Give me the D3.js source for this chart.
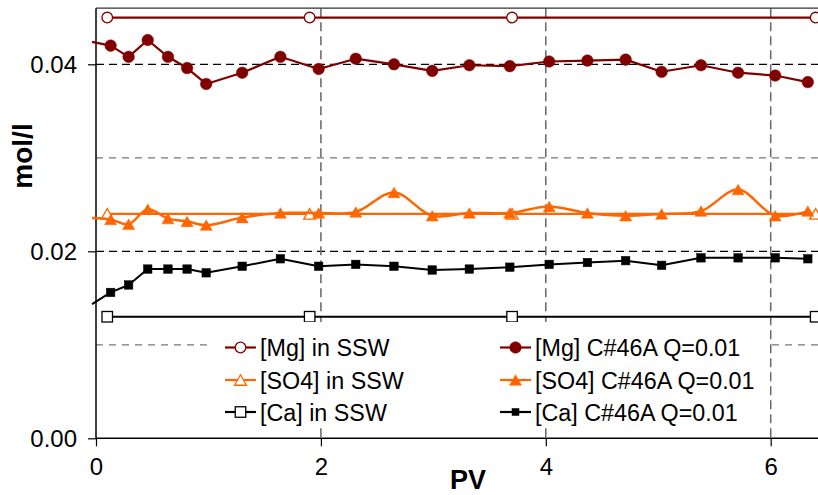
<!DOCTYPE html>
<html>
<head>
<meta charset="utf-8">
<script src="https://cdn.jsdelivr.net/npm/d3@7"></script>
<style>
  html, body { margin: 0; padding: 0; background: #fff; }
  svg { display: block; font-family: "Liberation Sans", Arial, sans-serif; }
</style>
</head>
<body>
<svg id="chart" width="818" height="495"></svg>
<script>
// ---- data ----
const pvMeasured = [0.13, 0.29, 0.46, 0.64, 0.81, 0.98, 1.30, 1.64, 1.98, 2.31, 2.65, 2.99, 3.32, 3.68, 4.03, 4.37, 4.71, 5.03, 5.38, 5.71, 6.04, 6.33];
const mgMeasured = [0.0420, 0.0408, 0.0426, 0.0408, 0.0396, 0.0379, 0.0391, 0.0408, 0.0395, 0.0406, 0.0400, 0.0393, 0.0399, 0.0398, 0.0403, 0.0404, 0.0405, 0.0392, 0.0399, 0.0391, 0.0388, 0.0381];
const so4Measured = [0.0234, 0.0229, 0.0245, 0.0235, 0.0232, 0.0228, 0.0236, 0.0241, 0.0241, 0.0242, 0.0263, 0.0238, 0.0241, 0.0241, 0.0248, 0.0241, 0.0238, 0.0240, 0.0243, 0.0266, 0.0238, 0.0243];
const caMeasured = [0.0156, 0.0164, 0.0181, 0.0181, 0.0181, 0.0177, 0.0184, 0.0192, 0.0184, 0.0186, 0.0184, 0.0180, 0.0181, 0.0183, 0.0186, 0.0188, 0.0190, 0.0185, 0.0193, 0.0193, 0.0193, 0.0192];
// line lead-in point (no marker) for measured series
const leadPV = -0.035;
const leadValues = { mg: 0.0424, so4: 0.02355, ca: 0.01435 };

const pvSSW = [0.1, 1.9, 3.7, 6.4];
const mgSSW = [0.0450, 0.0450, 0.0450, 0.0450];
const so4SSW = [0.0240, 0.0240, 0.0240, 0.0240];
const caSSW = [0.0130, 0.0130, 0.0130, 0.0130];

const xTicks = [0, 2, 4, 6];
const yTicks = [0.00, 0.02, 0.04];
const yGrid = [0.01, 0.02, 0.03, 0.04];

const legendLabels = ["[Mg] in SSW", "[SO4] in SSW", "[Ca] in SSW",
                      "[Mg] C#46A Q=0.01", "[SO4] C#46A Q=0.01", "[Ca] C#46A Q=0.01"];

// ---- layout ----
const svg = d3.select("#chart");
const x = d3.scaleLinear().domain([0, 6.5]).range([96, 96 + 6.5 * 112.45]);
const y = d3.scaleLinear().domain([0, 0.046]).range([438.3, 8.2]);
const X0 = 96, X1 = 818, Y0 = 438.3, Y1 = 8.2;

const C_MG = "#800000", C_SO4 = "#ff6600", C_CA = "#000000";

// gridlines
svg.append("g").selectAll("line").data(yGrid).join("line")
  .attr("x1", X0).attr("x2", X1)
  .attr("y1", d => y(d)).attr("y2", d => y(d))
  .attr("stroke", d => (Math.round(d * 100) % 2 === 0) ? "#000" : "#777")
  .attr("stroke-width", 1.2)
  .attr("stroke-dasharray", d => (Math.round(d * 100) % 2 === 0) ? "8,5" : "7,6");

svg.append("g").selectAll("line").data(xTicks.filter(d => d > 0)).join("line")
  .attr("x1", d => x(d)).attr("x2", d => x(d))
  .attr("y1", Y1).attr("y2", Y0)
  .attr("stroke", "#666").attr("stroke-width", 1.5)
  .attr("stroke-dasharray", "9,5");

// top border
svg.append("line").attr("x1", X0).attr("x2", X1).attr("y1", Y1).attr("y2", Y1)
  .attr("stroke", "#333").attr("stroke-width", 1.3);

// axes
const yAxis = d3.axisLeft(y).tickValues(yTicks).tickSize(8).tickPadding(11)
  .tickFormat(d3.format(".2f"));
const gy = svg.append("g").attr("transform", `translate(${X0},0)`).call(yAxis);
gy.select(".domain").attr("stroke", "#000").attr("stroke-width", 1.5).attr("d", `M0,${Y0}V${Y1}`);
gy.selectAll(".tick line").attr("stroke", "#000").attr("stroke-width", 1.2);
gy.selectAll(".tick text").attr("font-size", 24).attr("fill", "#000")
  .attr("font-family", "Liberation Sans, Arial, sans-serif").attr("dy", "0.36em");

const xAxis = d3.axisBottom(x).tickValues(xTicks).tickSize(8).tickPadding(12)
  .tickFormat(d3.format("d"));
const gx = svg.append("g").attr("transform", `translate(0,${Y0})`).call(xAxis);
gx.select(".domain").attr("stroke", "#000").attr("stroke-width", 1.5).attr("d", `M${X0},0H${X1 + 10}`);
gx.selectAll(".tick line").attr("stroke", "#000").attr("stroke-width", 1.2);
gx.selectAll(".tick text").attr("font-size", 24).attr("fill", "#000")
  .attr("font-family", "Liberation Sans, Arial, sans-serif");

// axis titles
svg.append("text").attr("transform", "translate(32,156) rotate(-90)")
  .attr("text-anchor", "middle").attr("font-weight", "bold").attr("font-size", 28)
  .text("mol/l");
svg.append("text").attr("x", 468).attr("y", 489)
  .attr("text-anchor", "middle").attr("font-weight", "bold").attr("font-size", 27)
  .text("PV");

// ---- markers ----
function triPath(w, h) {
  return `M0,${-h / 2}L${w / 2},${h / 2}L${-w / 2},${h / 2}Z`;
}
function drawMarker(g, type, cx, cy, color, filled, small) {
  if (type === "circle") {
    g.append("circle").attr("cx", cx).attr("cy", cy).attr("r", filled ? 5.8 : 5.3)
      .attr("fill", filled ? color : "#fff").attr("stroke", color).attr("stroke-width", filled ? 0.5 : 1.3);
  } else if (type === "tri") {
    g.append("path").attr("transform", `translate(${cx},${cy})`).attr("d", triPath(12, 10.5))
      .attr("fill", filled ? color : "#fff").attr("stroke", color).attr("stroke-width", filled ? 0.5 : 1.3);
  } else if (type === "square") {
    const s = filled ? (small ? 7 : 8.5) : 10.5;
    g.append("rect").attr("x", cx - s / 2).attr("y", cy - s / 2).attr("width", s).attr("height", s)
      .attr("fill", filled ? color : "#fff").attr("stroke", color).attr("stroke-width", filled ? 0.5 : 1.3);
  }
}

const line = d3.line().x(d => x(d[0])).y(d => y(d[1]));
const smooth = d3.line().x(d => x(d[0])).y(d => y(d[1])).curve(d3.curveCatmullRom.alpha(0.5));

// SSW series
const ssw = [
  { vals: mgSSW, color: C_MG, type: "circle" },
  { vals: so4SSW, color: C_SO4, type: "tri" },
  { vals: caSSW, color: C_CA, type: "square" }
];
ssw.forEach(s => {
  const pts = pvSSW.map((p, i) => [p, s.vals[i]]);
  svg.append("path").attr("d", line(pts)).attr("fill", "none")
    .attr("stroke", s.color).attr("stroke-width", 2.2);
  const g = svg.append("g");
  pts.forEach(p => drawMarker(g, s.type, x(p[0]), y(p[1]), s.color, false));
});

// measured series
const meas = [
  { vals: mgMeasured, lead: leadValues.mg, color: C_MG, type: "circle", gen: line, w: 2.2 },
  { vals: so4Measured, lead: leadValues.so4, color: C_SO4, type: "tri", gen: smooth, w: 2.5 },
  { vals: caMeasured, lead: leadValues.ca, color: C_CA, type: "square", gen: line, w: 2 }
];
meas.forEach(s => {
  const pts = pvMeasured.map((p, i) => [p, s.vals[i]]);
  svg.append("path").attr("d", s.gen([[leadPV, s.lead], ...pts])).attr("fill", "none")
    .attr("stroke", s.color).attr("stroke-width", s.w).attr("stroke-linejoin", "round");
  const g = svg.append("g");
  pts.forEach(p => drawMarker(g, s.type, x(p[0]), y(p[1]), s.color, true));
});

// ---- legend ----
svg.append("rect").attr("x", 213).attr("y", 322).attr("width", 557).attr("height", 105).attr("fill", "#fff");
const legendItems = [
  { col: 0, row: 0, color: C_MG, type: "circle", filled: false },
  { col: 0, row: 1, color: C_SO4, type: "tri", filled: false },
  { col: 0, row: 2, color: C_CA, type: "square", filled: false },
  { col: 1, row: 0, color: C_MG, type: "circle", filled: true },
  { col: 1, row: 1, color: C_SO4, type: "tri", filled: true },
  { col: 1, row: 2, color: C_CA, type: "square", filled: true }
];
const colX = [225, 500];
const rowY = [347.5, 380, 412];
legendItems.forEach((it, i) => {
  const lx = colX[it.col], ly = rowY[it.row];
  const g = svg.append("g");
  g.append("line").attr("x1", lx).attr("x2", lx + 31).attr("y1", ly).attr("y2", ly)
    .attr("stroke", it.color).attr("stroke-width", 2.2);
  drawMarker(g, it.type, lx + 15.5, ly, it.color, it.filled, true);
  g.append("text").attr("x", lx + 35).attr("y", ly + 8.5).attr("font-size", 23.3)
    .attr("fill", "#000").text(legendLabels[i]);
});
</script>
</body>
</html>
